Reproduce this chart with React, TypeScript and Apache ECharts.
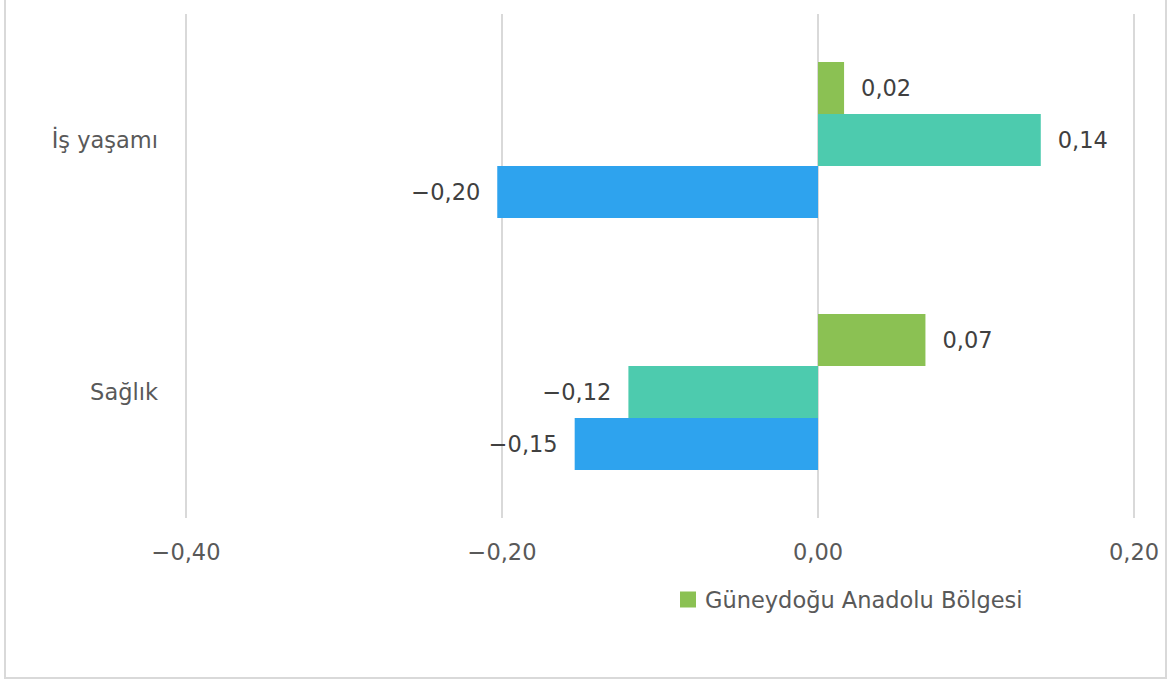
import React, { useEffect, useRef } from "react";
import * as echarts from "echarts";

const categories = ["Sağlık", "İş yaşamı"];
const greenValues = [0.068, 0.0165];
const tealValues = [-0.12, 0.141];
const blueValues = [-0.154, -0.203];
const legendName = "Güneydoğu Anadolu Bölgesi";
const seriesNames = [legendName, "Seri B", "Seri C"];
const colors = ["#8BC153", "#4DCBAE", "#2EA3EE"];

const fmt = (v: number) => {
  const s = Math.abs(v).toFixed(2).replace(".", ",");
  return v < 0 ? "\u2212" + s : s;
};

export default function App() {
  const ref = useRef<HTMLDivElement>(null);
  useEffect(() => {
    if (!ref.current) return;
    const chart = echarts.init(ref.current, null, { renderer: "svg" });
    const font = "DejaVu Sans";
    const fs = 22.5;
    const mk = (vals: number[], i: number) => ({
      name: seriesNames[i],
      type: "bar",
      barWidth: 52,
      barGap: "0%",
      itemStyle: { color: colors[i] },
      data: vals.map((v) => ({
        value: v,
        label: { position: v < 0 ? "left" : "right" },
      })),
      label: {
        show: true,
        distance: 17,
        color: "#404040",
        fontSize: fs,
        fontFamily: font,
        formatter: (p: any) => fmt(p.value),
      },
    });
    chart.setOption({
      animation: false,
      grid: { left: 186, right: 37, top: 14, bottom: 164, containLabel: false },
      xAxis: {
        type: "value",
        min: -0.4,
        max: 0.2,
        interval: 0.2,
        axisLine: { show: false },
        axisTick: { show: false },
        splitLine: { lineStyle: { color: "#d9d9d9", width: 2 } },
        axisLabel: {
          color: "#595959",
          fontSize: fs,
          fontFamily: font,
          margin: 22,
          formatter: (v: number) => fmt(v),
        },
      },
      yAxis: {
        type: "category",
        data: categories,
        axisLine: { show: false },
        axisTick: { show: false },
        axisLabel: { color: "#595959", fontSize: fs, fontFamily: font, margin: 28 },
      },
      legend: {
        data: [legendName],
        left: 680,
        top: 588,
        padding: 0,
        icon: "rect",
        itemWidth: 16,
        itemHeight: 16,
        textStyle: { color: "#595959", fontSize: fs, fontFamily: font, padding: [0, 0, 0, 4] },
      },
      graphic: [
        {
          type: "rect",
          shape: { x: 5, y: -10, width: 1161, height: 688 },
          style: { fill: "none", stroke: "#d9d9d9", lineWidth: 2 },
          silent: true,
        },
      ],
      series: [mk(greenValues, 0), mk(tealValues, 1), mk(blueValues, 2)],
    });
    return () => chart.dispose();
  }, []);
  return (
    <div
      ref={ref}
      style={{ position: "fixed", left: 0, top: 0, width: 1171, height: 682, background: "#fff" }}
    />
  );
}
